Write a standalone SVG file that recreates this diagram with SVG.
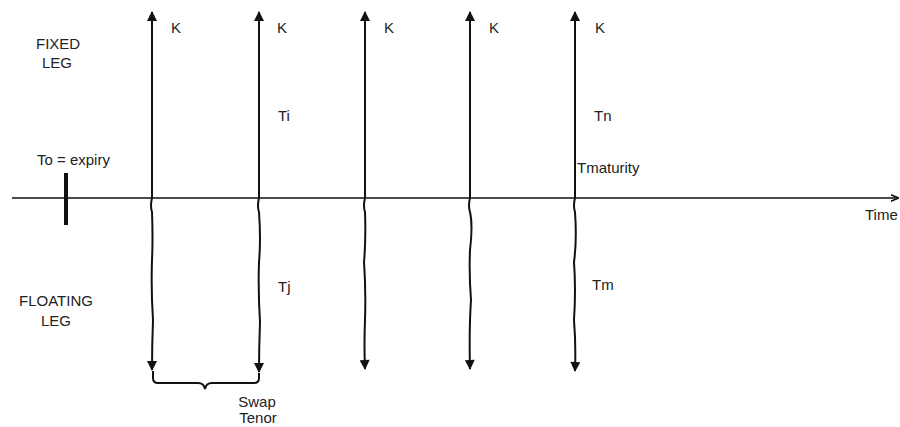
<svg xmlns="http://www.w3.org/2000/svg" width="900" height="427" viewBox="0 0 900 427">
<style>
text{font-family:"Liberation Sans",Arial,sans-serif;font-size:15px;fill:#222}
.ln{stroke:#111;stroke-width:2;fill:none}
.ax{stroke:#111;stroke-width:1.6;fill:none}
</style>
<defs>
<marker id="ah" viewBox="0 0 10 10" refX="9" refY="5" markerWidth="5.5" markerHeight="5" orient="auto" markerUnits="strokeWidth">
<path d="M0,0 L10,5 L0,10 Z" fill="#111"/>
</marker>
<marker id="ahs" viewBox="0 0 10 10" refX="9" refY="5" markerWidth="5" markerHeight="5" orient="auto" markerUnits="strokeWidth">
<path d="M0,1 L10,5 L0,9" fill="none" stroke="#111" stroke-width="2"/>
</marker>
</defs>
<rect width="900" height="427" fill="#fff"/>
<g id="labels">
<text x="36" y="49">FIXED</text>
<text x="42" y="68">LEG</text>
<text x="19" y="306">FLOATING</text>
<text x="41" y="326">LEG</text>
<text x="37" y="165">To = expiry</text>
<text x="865" y="220">Time</text>
</g>
<g id="connectors">
<line id="time-axis" class="ax" x1="12" y1="198" x2="898" y2="198" marker-end="url(#ahs)"/>
<line id="expiry-tick" x1="66" y1="173" x2="66" y2="225" stroke="#111" stroke-width="4"/>
<line class="ln" x1="152" y1="198" x2="152" y2="12" marker-end="url(#ah)"/>
<line class="ln" x1="259" y1="198" x2="259" y2="12" marker-end="url(#ah)"/>
<line class="ln" x1="365" y1="198" x2="365" y2="12" marker-end="url(#ah)"/>
<line class="ln" x1="470" y1="198" x2="470" y2="12" marker-end="url(#ah)"/>
<line class="ln" x1="575" y1="198" x2="575" y2="12" marker-end="url(#ah)"/>
<path class="ln" d="M152,198 Q150,206 152,212 Q153,240 152,260 Q151,290 153,320 Q152,345 152,370" marker-end="url(#ah)"/>
<path class="ln" d="M259,198 Q257,206 259,212 Q261,240 259,262 Q258,290 260,322 Q259,348 259,372" marker-end="url(#ah)"/>
<path class="ln" d="M365,198 Q363,206 365,212 Q366,240 364,262 Q366,290 365,320 Q364,345 365,369" marker-end="url(#ah)"/>
<path class="ln" d="M470,198 Q468,206 470,212 Q473,225 470,250 Q469,275 471,300 Q469,330 470,369" marker-end="url(#ah)"/>
<path class="ln" d="M575,198 Q573,206 575,212 Q577,240 574,262 Q576,290 574,320 Q576,345 575,371" marker-end="url(#ah)"/>
<path id="tenor-brace" class="ln" d="M153,371 L153,378 Q153,383 158,383 L198,383 Q204,383 205,389 Q206,383 212,383 L254,383 Q259,383 259,378 L259,373"/>
</g>
<g id="k1"><text x="171" y="33">K</text></g>
<g id="k2"><text x="277" y="33">K</text></g>
<g id="k3"><text x="384" y="33">K</text></g>
<g id="k4"><text x="489" y="33">K</text></g>
<g id="k5"><text x="595" y="33">K</text></g>
<g id="ti"><text x="278" y="121">Ti</text></g>
<g id="tj"><text x="278" y="292">Tj</text></g>
<g id="tn"><text x="594" y="121">Tn</text></g>
<g id="tm"><text x="592" y="290">Tm</text></g>
<g id="tmaturity"><text x="577" y="173">Tmaturity</text></g>
<g id="swap-tenor"><text x="257" y="407" text-anchor="middle">Swap</text><text x="258" y="423" text-anchor="middle">Tenor</text></g>
</svg>
